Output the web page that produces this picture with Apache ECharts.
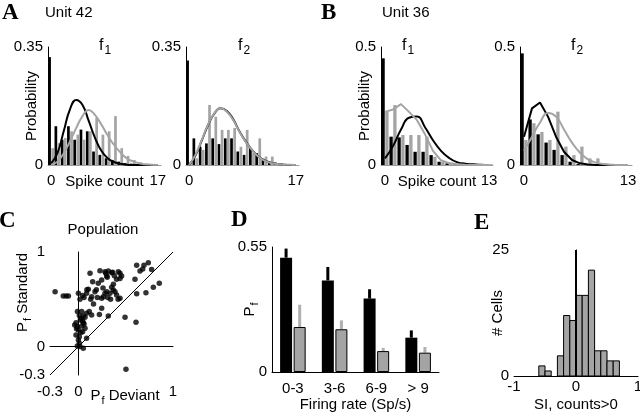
<!DOCTYPE html>
<html>
<head>
<meta charset="utf-8">
<title>Spike count panels</title>
<script src="https://cdn.jsdelivr.net/npm/echarts@6/dist/echarts.min.js"></script>
<style>
  html, body { margin: 0; padding: 0; background: #fff; }
  #main { width: 640px; height: 413px; }
</style>
</head>
<body>
<div id="main"></div>
<script>
// ---- data ----
var countsA = [0, 1, 2, 3, 4, 5, 6, 7, 8, 9, 10, 11, 12, 13, 14, 15, 16, 17];
var countsB = [0, 1, 2, 3, 4, 5, 6, 7, 8, 9, 10, 11, 12, 13];

// unit 42, f1
var a1Black = [0.32, 0.115, 0.075, 0.115, 0.075, 0.105, 0.1, 0.04, 0.03, 0.02, 0.015, 0.01, 0.006, 0.004, 0.002, 0.001, 0, 0];
var a1Gray = [0.05, 0.065, 0.08, 0.1, 0.09, 0.075, 0.1, 0.14, 0.09, 0.1, 0.145, 0.05, 0.027, 0.015, 0.008, 0.004, 0.002, 0];
var a1FitBlack = [0.005, 0.035, 0.1, 0.165, 0.193, 0.178, 0.13, 0.08, 0.042, 0.02, 0.009, 0.004, 0.001, 0, 0, 0, 0, 0];
var a1FitGray = [0, 0.01, 0.035, 0.07, 0.11, 0.145, 0.163, 0.148, 0.12, 0.088, 0.06, 0.038, 0.02, 0.011, 0.005, 0.002, 0.001, 0];
// unit 42, f2
var a2Black = [0.31, 0.079, 0.054, 0.064, 0.079, 0.062, 0.079, 0.079, 0.04, 0.03, 0.05, 0.035, 0.015, 0.01, 0.007, 0.004, 0.002, 0];
var a2Gray = [0.005, 0.02, 0.045, 0.178, 0.143, 0.104, 0.104, 0.11, 0.054, 0.104, 0.035, 0.079, 0.025, 0.025, 0.005, 0.003, 0, 0];
var a2FitBlack = [0, 0.028, 0.072, 0.118, 0.152, 0.168, 0.16, 0.136, 0.1, 0.07, 0.045, 0.026, 0.014, 0.007, 0.003, 0.001, 0, 0];
var a2FitGray = [0, 0.03, 0.074, 0.119, 0.153, 0.168, 0.158, 0.134, 0.099, 0.069, 0.045, 0.025, 0.013, 0.006, 0.003, 0.001, 0.001, 0];
// unit 36, f1
var b1Black = [0.452, 0.12, 0.117, 0.085, 0.056, 0.056, 0.042, 0.014, 0.007, 0.004, 0.01, 0.002, 0.002, 0];
var b1Gray = [0.226, 0.254, 0.127, 0.127, 0.127, 0.12, 0.035, 0.014, 0.006, 0.002, 0.002, 0.001, 0.001, 0.004];
var b1FitBlack = [0.028, 0.08, 0.15, 0.2, 0.205, 0.16, 0.105, 0.06, 0.03, 0.012, 0.005, 0.003, 0.001, 0];
var b1FitGray = [0.225, 0.235, 0.258, 0.225, 0.19, 0.13, 0.06, 0.02, 0.008, 0.003, 0.001, 0, 0, 0];
// unit 36, f2
var b2Black = [0.473, 0.193, 0.13, 0.095, 0.064, 0.042, 0.014, 0.004, 0.002, 0, 0, 0, 0, 0];
var b2Gray = [0.106, 0.177, 0.14, 0.106, 0.226, 0.078, 0.042, 0.078, 0.028, 0.028, 0.005, 0, 0, 0];
var b2FitBlack = [0.12, 0.24, 0.265, 0.205, 0.12, 0.056, 0.021, 0.007, 0.002, 0, 0, 0, 0, 0];
var b2FitGray = [0.06, 0.12, 0.18, 0.22, 0.205, 0.15, 0.095, 0.052, 0.024, 0.01, 0.004, 0.001, 0, 0];

// population: [Pf deviant, Pf standard]
var population = [
  [-0.305, 0.46], [-0.246, 0.58], [-0.16, 0.535], [-0.13, 0.535], [-0.105, 0.535],
  [0.0, 0.563], [0.045, 0.54], [0.017, 0.5], [0.06, 0.52], [0.09, 0.6],
  [-0.01, 0.37], [0.01, 0.33], [-0.025, 0.253], [-0.039, 0.229], [-0.011, 0.211],
  [-0.02, 0.19], [0.0, 0.176], [-0.025, 0.123], [0.0, 0.07], [0.01, 0.035],
  [-0.011, 0.007], [0.017, 0.0], [0.052, -0.018], [0.035, 0.37], [0.052, 0.324],
  [0.07, 0.31], [0.087, 0.352], [0.115, 0.37], [0.14, 0.334], [0.052, 0.253],
  [0.035, 0.218], [0.07, 0.194], [0.045, 0.158], [0.01, 0.105], [0.087, 0.088],
  [0.03, 0.3], [0.02, 0.28], [0.06, 0.24], [0.045, 0.27], [0.025, 0.15],
  [0.123, 0.775], [0.151, 0.686], [0.105, 0.606], [0.087, 0.563], [0.14, 0.528],
  [0.175, 0.58], [0.21, 0.669], [0.228, 0.803], [0.246, 0.704], [0.281, 0.792],
  [0.299, 0.746], [0.29, 0.776], [0.305, 0.734], [0.316, 0.8], [0.352, 0.78],
  [0.362, 0.786], [0.38, 0.75], [0.404, 0.711], [0.422, 0.792], [0.44, 0.775],
  [0.457, 0.746], [0.44, 0.72], [0.264, 0.528], [0.246, 0.511], [0.281, 0.563],
  [0.246, 0.405], [0.222, 0.34], [0.3, 0.58], [0.334, 0.563], [0.352, 0.627],
  [0.369, 0.599], [0.387, 0.581], [0.404, 0.546], [0.42, 0.5], [0.44, 0.51],
  [0.34, 0.5], [0.31, 0.52], [0.37, 0.66], [0.316, 0.323], [0.493, 0.31],
  [0.609, 0.257], [0.503, -0.24], [0.598, 0.711], [0.616, 0.56], [0.616, 0.86],
  [0.651, 0.8], [0.693, 0.86], [0.739, 0.887], [0.774, 0.816], [0.714, 0.57],
  [0.792, 0.627], [0.855, 0.669], [0.68, 0.82], [0.2, 0.52], [0.16, 0.45],
  [0.19, 0.6], [0.26, 0.62], [0.13, 0.5]
];

// firing rate groups
var rateGroups = ['0-3', '3-6', '6-9', '> 9'];
var pfBlack = [0.503, 0.403, 0.323, 0.151];
var pfBlackErr = [0.04, 0.059, 0.041, 0.032];
var pfGray = [0.198, 0.188, 0.092, 0.085];
var pfGrayErr = [0.098, 0.039, 0.014, 0.025];

// SI histogram
var siBinStart = [-0.6, -0.5, -0.4, -0.3, -0.2, -0.1, 0, 0.1, 0.2, 0.3, 0.4, 0.5, 0.6];
var siCells = [2, 1, 0, 4, 12, 11, 16, 16, 21, 5, 5, 3, 3];
var siBinWidth = 0.1;

// ---- chart ----
var FONT = '"Liberation Sans", Arial, sans-serif';
var GRAY = '#a4a4a4';
var txt = { color: '#000', fontSize: 15, fontFamily: FONT };
var subRich = { s: { fontSize: 11, fontFamily: FONT, color: '#000', padding: [10, 0, 0, 1] } };

var chart = echarts.init(document.getElementById('main'));

var grids = [
  { left: 48, top: 47, width: 113, height: 118 },
  { left: 186, top: 47, width: 113, height: 118 },
  { left: 381, top: 47, width: 112, height: 118 },
  { left: 520, top: 47, width: 112, height: 118 },
  { left: 50, top: 252, width: 123, height: 123 },
  { left: 272, top: 247, width: 167, height: 125 },
  { left: 514, top: 250, width: 124, height: 126 }
];
grids.forEach(function (g) { g.outerBoundsMode = 'none'; });

var xAxes = [], yAxes = [], series = [];

function histPanel(gi, cats, ymax, barW, labels, black, gray, fitBlack, fitGray, smoothGray, smoothBlack) {
  var last = cats.length - 1;
  xAxes.push({
    gridIndex: gi, type: 'category', data: cats, boundaryGap: true,
    axisLine: { lineStyle: { color: '#9c9c9c', width: 1 } },
    axisTick: { show: false },
    axisLabel: Object.assign({ interval: function (i) { return i === 0 || i === last; }, margin: 8 }, txt),
    name: labels ? 'Spike count' : '', nameLocation: 'middle', nameGap: 9,
    nameMoveOverlap: false, nameTextStyle: txt
  });
  yAxes.push({
    gridIndex: gi, type: 'value', min: 0, max: ymax, interval: ymax,
    splitLine: { show: false }, axisTick: { show: false },
    axisLine: { show: true, lineStyle: { color: '#000', width: 1 } },
    axisLabel: Object.assign({ margin: 5 }, txt),
    name: labels ? 'Probability' : '', nameLocation: 'middle', nameRotate: 90, nameGap: 9,
    nameMoveOverlap: false, nameTextStyle: txt
  });
  series.push(
    { type: 'bar', xAxisIndex: gi, yAxisIndex: gi, data: black, barWidth: barW, barGap: '15%', itemStyle: { color: '#000' }, silent: true },
    { type: 'bar', xAxisIndex: gi, yAxisIndex: gi, data: gray, barWidth: barW, barGap: '15%', itemStyle: { color: GRAY }, silent: true },
    { type: 'line', xAxisIndex: gi, yAxisIndex: gi, data: fitBlack, smooth: smoothBlack, showSymbol: false, lineStyle: { color: '#000', width: 2 }, z: 3, silent: true },
    { type: 'line', xAxisIndex: gi, yAxisIndex: gi, data: fitGray, smooth: smoothGray, showSymbol: false, lineStyle: { color: GRAY, width: 2 }, z: 4, silent: true }
  );
}

histPanel(0, countsA, 0.35, 2.7, true, a1Black, a1Gray, a1FitBlack, a1FitGray, true, true);
histPanel(1, countsA, 0.35, 2.7, false, a2Black, a2Gray, a2FitBlack, a2FitGray, true, true);
histPanel(2, countsB, 0.5, 3.3, true, b1Black, b1Gray, b1FitBlack, b1FitGray, false, true);
histPanel(3, countsB, 0.5, 3.3, false, b2Black, b2Gray, b2FitBlack, b2FitGray, true, false);

// C: population scatter
xAxes.push({
  gridIndex: 4, type: 'value', min: -0.3, max: 1,
  splitLine: { show: false }, axisTick: { show: false },
  axisLine: { lineStyle: { color: '#000', width: 1 } },
  axisLabel: Object.assign({ customValues: [-0.3, 0, 1], margin: 9 }, txt),
  name: 'P{s|f} Deviant', nameLocation: 'middle', nameGap: 10, nameMoveOverlap: false,
  nameTextStyle: Object.assign({ rich: subRich, padding: [0, 0, 0, 27] }, txt)
});
yAxes.push({
  gridIndex: 4, type: 'value', min: -0.3, max: 1,
  splitLine: { show: false }, axisTick: { show: false },
  axisLine: { show: true, lineStyle: { color: '#000', width: 1 } },
  axisLabel: Object.assign({ customValues: [-0.3, 0, 1], margin: 5 }, txt),
  name: 'P{s|f} Standard', nameLocation: 'middle', nameRotate: 90, nameGap: 17, nameMoveOverlap: false,
  nameTextStyle: Object.assign({ rich: subRich, padding: [0, 0, 0, 42] }, txt)
});
series.push({
  type: 'scatter', xAxisIndex: 4, yAxisIndex: 4, data: population,
  symbolSize: 5.5, itemStyle: { color: '#000' }, silent: true,
  markLine: {
    silent: true, symbol: 'none', label: { show: false },
    lineStyle: { color: '#000', width: 1, type: 'solid' },
    data: [{ xAxis: 0 }, { yAxis: 0 }, [{ coord: [-0.3, -0.3] }, { coord: [1, 1] }]]
  }
});

// D: Pf by firing rate
xAxes.push({
  gridIndex: 5, type: 'category', data: rateGroups,
  axisLine: { lineStyle: { color: '#000', width: 1 } }, axisTick: { show: false },
  axisLabel: Object.assign({ margin: 9 }, txt),
  name: 'Firing rate (Sp/s)', nameLocation: 'middle', nameGap: 25, nameMoveOverlap: false, nameTextStyle: txt
});
yAxes.push({
  gridIndex: 5, type: 'value', min: 0, max: 0.55, interval: 0.55,
  splitLine: { show: false }, axisTick: { show: false },
  axisLine: { show: true, lineStyle: { color: '#000', width: 1 } },
  axisLabel: Object.assign({ margin: 5 }, txt),
  name: 'P{s|f}', nameLocation: 'middle', nameRotate: 90, nameGap: 12, nameMoveOverlap: false,
  nameTextStyle: Object.assign({ rich: subRich }, txt)
});
var dBarW = 12, dOff = 6.8;
function errBars(vals, errs, offset, color) {
  return {
    type: 'custom', xAxisIndex: 5, yAxisIndex: 5, silent: true, z: 1,
    data: vals.map(function (v, i) { return [i, v, errs[i]]; }),
    renderItem: function (params, api) {
      var a = api.coord([api.value(0), api.value(1)]);
      var b = api.coord([api.value(0), api.value(1) + api.value(2)]);
      return { type: 'line', shape: { x1: a[0] + offset, y1: a[1], x2: a[0] + offset, y2: b[1] },
        style: { stroke: color, lineWidth: 3 } };
    }
  };
}
series.push(
  { type: 'bar', xAxisIndex: 5, yAxisIndex: 5, data: pfBlack, barWidth: dBarW, barGap: '13%', itemStyle: { color: '#000' }, silent: true },
  { type: 'bar', xAxisIndex: 5, yAxisIndex: 5, data: pfGray, barWidth: dBarW, barGap: '13%', itemStyle: { color: GRAY, borderColor: '#000', borderWidth: 1 }, silent: true },
  errBars(pfBlack, pfBlackErr, -dOff, '#000'),
  errBars(pfGray, pfGrayErr, dOff, '#b0b0b0')
);

// E: SI histogram
xAxes.push({
  gridIndex: 6, type: 'value', min: -1, max: 1, interval: 1,
  splitLine: { show: false }, axisTick: { show: false },
  axisLine: { lineStyle: { color: '#000', width: 1 } },
  axisLabel: Object.assign({ margin: 3 }, txt),
  name: 'SI, counts>0', nameLocation: 'middle', nameGap: 21, nameMoveOverlap: false, nameTextStyle: txt
});
yAxes.push({
  gridIndex: 6, type: 'value', min: 0, max: 25, interval: 25,
  splitLine: { show: false }, axisTick: { show: false },
  axisLine: { show: true, lineStyle: { color: '#000', width: 1 } },
  axisLabel: Object.assign({ margin: 5 }, txt),
  name: '# Cells', nameLocation: 'middle', nameRotate: 90, nameGap: 9, nameMoveOverlap: false, nameTextStyle: txt
});
series.push({
  type: 'custom', xAxisIndex: 6, yAxisIndex: 6, silent: true,
  data: siBinStart.map(function (s, i) { return [s, siCells[i]]; }),
  renderItem: function (params, api) {
    if (!api.value(1)) return null;
    var p0 = api.coord([api.value(0), api.value(1)]);
    var p1 = api.coord([api.value(0) + siBinWidth, 0]);
    return { type: 'rect', shape: { x: p0[0], y: p0[1], width: p1[0] - p0[0], height: p1[1] - p0[1] },
      style: { fill: GRAY, stroke: '#000', lineWidth: 1 } };
  },
  markLine: {
    silent: true, symbol: 'none', label: { show: false },
    lineStyle: { color: '#000', width: 2, type: 'solid' },
    data: [{ xAxis: 0 }]
  }
});

// panel letters and titles
function label(x, y, text, extra) {
  return { type: 'text', x: x, y: y, silent: true,
    style: Object.assign({ text: text, fill: '#000', font: '15px ' + FONT, verticalAlign: 'middle' }, extra || {}) };
}
var letterFont = 'bold 23px "Liberation Serif", "Times New Roman", serif';
var fRich = { f: { fontSize: 16, fontFamily: FONT, fill: '#000' }, s: { fontSize: 12, fontFamily: FONT, fill: '#000', padding: [10, 0, 0, 1] } };

chart.setOption({
  animation: false,
  grid: grids,
  xAxis: xAxes,
  yAxis: yAxes,
  series: series,
  graphic: [
    label(2, 13, 'A', { font: letterFont }),
    label(45, 13, 'Unit 42'),
    label(321, 13, 'B', { font: letterFont }),
    label(382, 13, 'Unit 36'),
    label(-1, 221, 'C', { font: letterFont }),
    label(231, 220, 'D', { font: letterFont }),
    label(474, 223, 'E', { font: letterFont }),
    label(103, 230, 'Population', { align: 'center' }),
    label(99, 46, '{f|f}{s|1}', { rich: fRich }),
    label(238, 46, '{f|f}{s|2}', { rich: fRich }),
    label(402, 46, '{f|f}{s|1}', { rich: fRich }),
    label(571, 46, '{f|f}{s|2}', { rich: fRich })
  ]
});
</script>
</body>
</html>
